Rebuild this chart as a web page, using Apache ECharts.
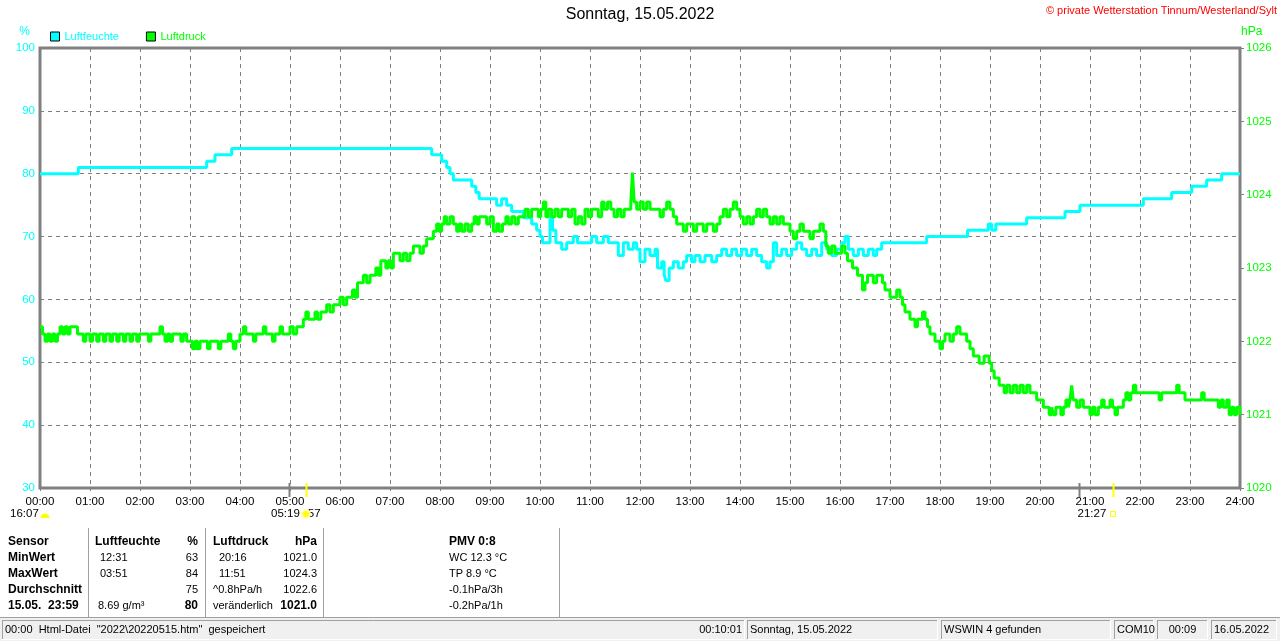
<!DOCTYPE html>
<html><head><meta charset="utf-8">
<script src="https://cdn.jsdelivr.net/npm/echarts@6/dist/echarts.min.js"></script>
<style>html,body{margin:0;padding:0;background:#fff}#c{width:1280px;height:641px}</style>
</head><body><div id="c"></div>
<script>
const FONT = '"Liberation Sans", Arial, sans-serif';
const titleText = 'Sonntag, 15.05.2022';
const copyrightText = '\u00a9 private Wetterstation Tinnum/Westerland/Sylt';
const seriesNames = ['Luftfeuchte', 'Luftdruck'];
const unitLeft = '%';
const unitRight = 'hPa';

// [minute of day, humidity %]
const humidity = [
[0,80],[46,81],[200,82],[210,83],[230,84],[470,83],[482,82],[488,81],[492,80],[496,79],[518,78],[523,77],[527,76],[548,75],[554,76],[560,75],[566,74],[580,73],[590,72],[596,71],[600,70],[603,69],[612,73],[615,71],[619,69],[626,68],[632,69],[640,70],[645,69],[662,70],[668,69],[676,70],[682,69],[694,67],[700,69],[706,68],[712,69],[716,68],[720,66],[726,68],[732,67],[738,68],[741,65],[746,66],[749,64],[751,63],[755,65],[760,66],[766,65],[772,66],[776,67],[782,66],[786,67],[792,66],[798,67],[806,66],[812,67],[818,68],[824,67],[830,68],[836,67],[842,68],[848,67],[854,68],[860,67],[866,66],[872,65],[876,66],[880,69],[884,67],[890,68],[896,67],[902,68],[908,69],[914,68],[920,67],[926,68],[932,67],[938,69],[944,68],[950,67],[956,68],[962,69],[966,70],[970,68],[976,67],[982,68],[988,67],[994,68],[1000,67],[1004,68],[1010,69],[1064,70],[1113,71],[1138,72],[1142,71],[1147,72],[1184,73],[1230,74],[1248,75],[1324,76],[1358,77],[1382,78],[1400,79],[1418,80],[1440,80]
];

// [minute of day, pressure hPa]
const pressure = [
[0,1022.2],[3,1022.1],[6,1022.0],[9,1022.1],[12,1022.0],[15,1022.1],[18,1022.0],[21,1022.1],[24,1022.2],[27,1022.1],[30,1022.2],[33,1022.1],[36,1022.2],[42,1022.2],[45,1022.1],
[52,1022.0],[55,1022.1],[60,1022.0],[63,1022.1],[68,1022.0],[71,1022.1],[76,1022.0],[79,1022.1],[84,1022.0],[87,1022.1],[92,1022.0],[95,1022.1],[100,1022.0],[103,1022.1],[108,1022.0],[111,1022.1],[116,1022.0],[119,1022.1],[126,1022.1],[130,1022.0],[133,1022.1],[140,1022.1],[144,1022.2],[147,1022.1],[150,1022.0],[153,1022.1],[156,1022.0],[159,1022.1],[166,1022.1],[169,1022.0],[172,1022.1],[176,1022.0],[180,1022.0],[183,1021.9],[186,1022.0],[189,1021.9],[192,1022.0],[198,1022.0],[201,1021.9],[204,1022.0],[210,1022.0],[214,1021.9],[217,1022.0],[222,1022.0],[226,1022.1],[229,1022.0],[232,1021.9],[235,1022.0],[240,1022.1],[244,1022.2],[247,1022.1],[252,1022.1],[256,1022.0],[259,1022.1],[264,1022.1],[268,1022.2],[271,1022.1],[276,1022.1],[279,1022.0],[282,1022.1],[288,1022.2],[291,1022.1],[296,1022.1],[300,1022.2],[304,1022.1],[308,1022.2],[312,1022.2],[316,1022.3],[319,1022.4],[322,1022.3],[326,1022.3],[330,1022.4],[333,1022.3],[337,1022.4],[340,1022.4],[344,1022.5],[348,1022.4],[352,1022.5],[356,1022.5],[360,1022.6],[364,1022.5],[368,1022.6],[372,1022.6],[375,1022.7],[378,1022.6],[381,1022.8],[384,1022.8],[388,1022.9],[392,1022.8],[396,1022.9],[400,1022.9],[403,1023.0],[406,1022.9],[409,1023.1],[412,1023.1],[415,1023.0],[418,1023.1],[421,1023.0],[424,1023.2],[428,1023.2],[432,1023.1],[436,1023.2],[440,1023.1],[444,1023.2],[448,1023.3],[452,1023.3],[456,1023.2],[460,1023.3],[464,1023.4],[468,1023.4],[472,1023.5],[476,1023.6],[479,1023.5],[482,1023.6],[485,1023.7],[488,1023.6],[492,1023.7],[496,1023.6],
[500,1023.5],[503,1023.6],[506,1023.5],[510,1023.6],[514,1023.5],[518,1023.6],[521,1023.7],[524,1023.6],[527,1023.7],[532,1023.7],[536,1023.6],[540,1023.7],[544,1023.5],[548,1023.6],[551,1023.5],[555,1023.6],[559,1023.7],[562,1023.6],[566,1023.7],[570,1023.6],[574,1023.7],[578,1023.7],[582,1023.8],[586,1023.7],[590,1023.8],[594,1023.8],[598,1023.7],[601,1023.8],[604,1023.9],[607,1023.7],[610,1023.8],[614,1023.7],[618,1023.8],[622,1023.7],[626,1023.8],[630,1023.8],[634,1023.7],[638,1023.8],[642,1023.6],[646,1023.7],[650,1023.6],[654,1023.8],[658,1023.7],[662,1023.8],[666,1023.8],[670,1023.7],[674,1023.9],[677,1023.8],[681,1023.9],[685,1023.8],[689,1023.7],[693,1023.8],[697,1023.7],[701,1023.8],[705,1023.8],[709,1023.9],[711,1024.3],[713,1023.9],[716,1023.8],[720,1023.9],[724,1023.8],[728,1023.9],[732,1023.8],[736,1023.8],[740,1023.8],[744,1023.7],[748,1023.8],[752,1023.9],[756,1023.8],[760,1023.7],[764,1023.6],[768,1023.6],[772,1023.5],[776,1023.6],[780,1023.6],[784,1023.5],[788,1023.6],[792,1023.6],[796,1023.5],[800,1023.6],[804,1023.6],[808,1023.5],[812,1023.6],[816,1023.7],[820,1023.8],[824,1023.7],[828,1023.8],[832,1023.9],[836,1023.8],[840,1023.7],[844,1023.6],[848,1023.7],[852,1023.6],[856,1023.7],[860,1023.8],[864,1023.7],[868,1023.8],[872,1023.7],[876,1023.6],[880,1023.7],[884,1023.6],[888,1023.7],[892,1023.6],[896,1023.6],[900,1023.5],[904,1023.4],[908,1023.5],[912,1023.6],[916,1023.5],[920,1023.5],[924,1023.4],[928,1023.5],[932,1023.5],[936,1023.6],[940,1023.5],[943,1023.3],[946,1023.2],[950,1023.3],[954,1023.2],[958,1023.2],[962,1023.3],[966,1023.2],[969,1023.1],[972,1023.1],[975,1023.0],[978,1023.0],[981,1022.9],[984,1022.9],[987,1022.7],[990,1022.8],[993,1022.9],[996,1022.9],
[1000,1022.8],[1004,1022.9],[1008,1022.9],[1011,1022.8],[1014,1022.7],[1017,1022.7],[1020,1022.6],[1024,1022.6],[1028,1022.7],[1032,1022.6],[1035,1022.5],[1038,1022.4],[1041,1022.4],[1044,1022.3],[1047,1022.3],[1050,1022.2],[1053,1022.3],[1056,1022.3],[1059,1022.4],[1062,1022.3],[1065,1022.2],[1068,1022.1],[1071,1022.1],[1074,1022.0],[1077,1022.0],[1080,1021.9],[1083,1022.0],[1086,1022.1],[1089,1022.1],[1092,1022.0],[1096,1022.1],[1100,1022.2],[1104,1022.1],[1108,1022.1],[1112,1022.0],[1116,1021.9],[1120,1021.8],[1124,1021.8],[1127,1021.7],[1130,1021.7],[1133,1021.8],[1136,1021.8],[1139,1021.7],[1142,1021.6],[1145,1021.5],[1148,1021.5],[1151,1021.4],[1154,1021.4],[1157,1021.3],[1160,1021.4],[1164,1021.3],[1168,1021.4],[1172,1021.3],[1176,1021.4],[1180,1021.3],[1184,1021.4],[1188,1021.3],[1192,1021.3],[1196,1021.2],[1200,1021.2],[1204,1021.1],[1208,1021.1],[1211,1021.0],[1214,1021.1],[1216,1021.0],[1219,1021.1],[1222,1021.1],[1225,1021.0],[1228,1021.1],[1231,1021.2],[1234,1021.1],[1236,1021.2],[1238,1021.4],[1240,1021.2],[1244,1021.1],[1248,1021.2],[1252,1021.1],[1256,1021.1],[1260,1021.0],[1263,1021.1],[1266,1021.0],[1270,1021.1],[1274,1021.2],[1277,1021.1],[1280,1021.1],[1284,1021.2],[1287,1021.1],[1290,1021.0],[1293,1021.1],[1296,1021.1],[1300,1021.2],[1303,1021.3],[1306,1021.2],[1309,1021.3],[1312,1021.4],[1315,1021.3],[1320,1021.3],[1340,1021.3],[1343,1021.2],[1346,1021.3],[1360,1021.3],[1364,1021.4],[1367,1021.3],[1374,1021.2],[1390,1021.2],[1394,1021.3],[1397,1021.2],[1410,1021.2],[1414,1021.1],[1417,1021.2],[1420,1021.1],[1424,1021.2],[1427,1021.0],[1430,1021.1],[1433,1021.0],[1436,1021.1],[1440,1021.0]
];

// markers below the time axis: [minute, colour]
const axisMarks = [[299,'#808080'],[319,'#ffff00'],[1247,'#808080'],[1288,'#ffff00']];

// summary table: [text, x, align, bold, row]
const tableCells = [
['Sensor',8,'left',1,0],['Luftfeuchte',95,'left',1,0],['%',198,'right',1,0],['Luftdruck',213,'left',1,0],['hPa',317,'right',1,0],['PMV 0:8',449,'left',1,0],
['MinWert',8,'left',1,1],['12:31',100,'left',0,1],['63',198,'right',0,1],['20:16',219,'left',0,1],['1021.0',317,'right',0,1],['WC 12.3 \u00b0C',449,'left',0,1],
['MaxWert',8,'left',1,2],['03:51',100,'left',0,2],['84',198,'right',0,2],['11:51',219,'left',0,2],['1024.3',317,'right',0,2],['TP 8.9 \u00b0C',449,'left',0,2],
['Durchschnitt',8,'left',1,3],['75',198,'right',0,3],['^0.8hPa/h',213,'left',0,3],['1022.6',317,'right',0,3],['-0.1hPa/3h',449,'left',0,3],
['15.05.  23:59',8,'left',1,4],['8.69 g/m\u00b3',98,'left',0,4],['80',198,'right',1,4],['ver\u00e4nderlich',213,'left',0,4],['1021.0',317,'right',1,4],['-0.2hPa/1h',449,'left',0,4]
];
const tableRowY = [541.5, 557.5, 573.5, 589.5, 605.5];
const tableSeparators = [88.5, 205.5, 323.5, 559.5];

// status bar panels: [x0, x1, text, align]
const statusPanels = [
[2,745,'00:00  Html-Datei  "2022\\20220515.htm"  gespeichert','left'],
[747,938,'Sonntag, 15.05.2022','left'],
[941,1111,'WSWIN 4 gefunden','left'],
[1114,1154,'COM10','left'],
[1157,1208,'00:09','center'],
[1211,1277,'16.05.2022','left']
];
const statusRightText = '00:10:01';

const chart = echarts.init(document.getElementById('c'), null, {renderer:'canvas'});
const pad2 = n => (n < 10 ? '0' : '') + n;

const option = {
  animation: false,
  backgroundColor: '#fff',
  title: [
    {text: titleText, left: 'center', top: 7, padding: 0, textStyle:{fontFamily:FONT, fontSize:16, fontWeight:'normal', color:'#000'}},
    {text: copyrightText, right: 3, top: 5, padding: 0, textStyle:{fontFamily:FONT, fontSize:11, fontWeight:'normal', color:'#ff0000'}}
  ],
  legend: {
    left: 50, top: 31, padding: 0, icon: 'rect', itemWidth: 9, itemHeight: 9, itemGap: 27,
    textStyle:{fontFamily:FONT, fontSize:11},
    data: [
      {name: seriesNames[0], textStyle:{color:'#00ffff'}, itemStyle:{color:'#00ffff', borderColor:'#000', borderWidth:1}},
      {name: seriesNames[1], textStyle:{color:'#00ff00'}, itemStyle:{color:'#00ff00', borderColor:'#000', borderWidth:1}}
    ]
  },
  grid: {left:40, right:40, top:48, bottom:153, show:true, borderColor:'#808080', borderWidth:3, backgroundColor:'rgba(0,0,0,0)'},
  xAxis: {
    type:'value', min:0, max:1440, interval:60,
    axisLine:{show:false},
    axisTick:{show:true, length:3, lineStyle:{color:'#808080', width:1}},
    axisLabel:{formatter: v => pad2(v/60) + ':00', color:'#000', fontFamily:FONT, fontSize:11.5, margin:8},
    splitLine:{show:true, lineStyle:{color:'#808080', type:[4,4], width:1}}
  },
  yAxis: [
    {type:'value', min:30, max:100, interval:10, position:'left',
     name: unitLeft, nameLocation:'end', nameGap:10,
     nameTextStyle:{color:'#00ffff', fontFamily:FONT, fontSize:12, align:'right', padding:[0,10,0,0]},
     axisLine:{show:false}, axisTick:{show:false},
     axisLabel:{color:'#00ffff', fontFamily:FONT, fontSize:11.5, margin:5, formatter: v => String(v)},
     splitLine:{show:true, lineStyle:{color:'#808080', type:[4,4], width:1}}},
    {type:'value', min:1020, max:1026, interval:1, position:'right',
     name: unitRight, nameLocation:'end', nameGap:10,
     nameTextStyle:{color:'#00ff00', fontFamily:FONT, fontSize:12, align:'left', padding:[0,0,0,1]},
     axisLine:{show:false}, axisTick:{show:true, length:4, lineStyle:{color:'#808080', width:1}},
     axisLabel:{color:'#00ff00', fontFamily:FONT, fontSize:11.5, margin:6, formatter: v => String(v)},
     splitLine:{show:false}}
  ],
  series: [
    {name: seriesNames[0], type:'line', step:'end', yAxisIndex:0, data: humidity, showSymbol:false,
     lineStyle:{color:'#00ffff', width:3}, itemStyle:{color:'#00ffff'}, z:3},
    {name: seriesNames[1], type:'line', step:'end', yAxisIndex:1, data: pressure, showSymbol:false,
     lineStyle:{color:'#00ff00', width:3}, itemStyle:{color:'#00ff00'}, z:4}
  ]
};
chart.setOption(option);

function txt(text, x, y, opts) {
  opts = opts || {};
  const size = opts.size || 11;
  return {type:'text', silent:true, z: opts.z || 10, style:{
    text, x, y, fill: opts.color || '#000',
    font: (opts.bold ? 'bold ' : '') + size + 'px ' + FONT,
    textAlign: opts.align || 'left', textVerticalAlign: 'middle',
    align: opts.align || 'left', verticalAlign: 'middle'
  }};
}
function ln(x1, y1, x2, y2, color, w) {
  return {type:'line', silent:true, z:10, shape:{x1,y1,x2,y2}, style:{stroke:color, lineWidth:w||1}};
}

const g = [];
// axis markers
axisMarks.forEach(([m, c]) => {
  const x = Math.round(chart.convertToPixel({xAxisIndex:0}, m)) + 0.5;
  g.push(ln(x, 483, x, 497, c, 2));
});
const xOf = m => chart.convertToPixel({xAxisIndex:0}, m);
g.push(txt('16:07', 10, 514, {size:11.5}));
g.push({type:'sector', silent:true, z:10, shape:{cx:45, cy:518, r:4.5, startAngle:Math.PI, endAngle:2*Math.PI}, style:{fill:'#ffff00'}});
g.push(txt('05:19', xOf(319) - 6, 514, {size:11.5, align:'right'}));
g.push(txt('57', xOf(319) + 2, 514, {size:11.5}));
g.push({type:'circle', silent:true, z:11, shape:{cx:xOf(319), cy:514, r:4}, style:{fill:'#ffff00', stroke:'#ffffb0', lineWidth:2}});
g.push(txt('21:27', xOf(1288) - 7, 514, {size:11.5, align:'right'}));
g.push({type:'rect', silent:true, z:10, shape:{x:Math.round(xOf(1288))-2.5, y:511.5, width:5, height:5}, style:{fill:'none', stroke:'#ffff00', lineWidth:1}});

// table
tableCells.forEach(([t, x, a, b, r]) => {
  g.push(txt(t, x, tableRowY[r], {size: b ? 12 : 11, bold: !!b, align: a}));
});
tableSeparators.forEach(x => {
  g.push(ln(x, 528, x, 617, '#a0a0a0', 1));
  g.push(ln(x + 1, 528, x + 1, 617, '#ffffff', 1));
});

// status bar
g.push({type:'rect', silent:true, z:9, shape:{x:0, y:617, width:1280, height:24}, style:{fill:'#f0f0f0'}});
g.push(ln(0, 617.5, 1280, 617.5, '#a0a0a0', 1));
statusPanels.forEach(([x0, x1, t, a]) => {
  g.push(ln(x0, 620.5, x1, 620.5, '#a0a0a0', 1));
  g.push(ln(x0 + 0.5, 620, x0 + 0.5, 640, '#a0a0a0', 1));
  g.push(ln(x0, 639.5, x1, 639.5, '#ffffff', 1));
  g.push(ln(x1 - 0.5, 620, x1 - 0.5, 640, '#ffffff', 1));
  let tx = a === 'center' ? (x0 + x1) / 2 : x0 + 3;
  g.push(txt(t, tx, 630, {size:11, align:a}));
});
g.push(txt(statusRightText, 742, 630, {size:11, align:'right'}));

chart.setOption({graphic: {elements: g}});
</script>
</body></html>
